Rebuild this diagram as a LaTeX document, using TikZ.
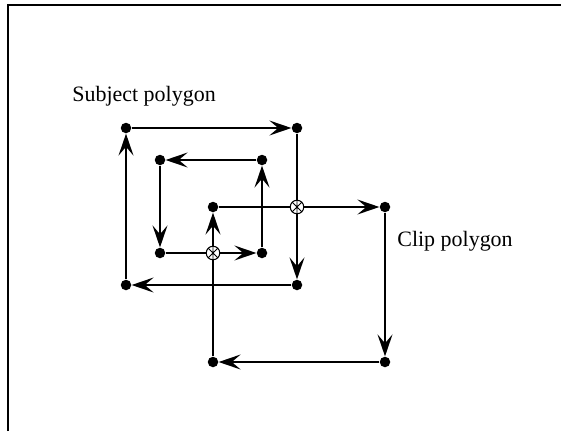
\documentclass[tikz,border=0pt]{standalone}
\usepackage{fontspec}
\setmainfont{Liberation Serif}
\usetikzlibrary{arrows.meta}

\begin{document}
\begin{tikzpicture}[
    dot/.style={circle,fill,inner sep=0pt,minimum size=0.21cm},
    link/.style={line width=1pt,-{Stealth[length=12.5pt,width=8.5pt,inset=5pt]}},
    hit/.style={circle,draw,fill=white,line width=0.6pt,inner sep=0pt,minimum size=0.27cm,
      path picture={\draw[line width=0.45pt] (path picture bounding box.north)--(path picture bounding box.south)
        (path picture bounding box.north west)--(path picture bounding box.south east)
        (path picture bounding box.north east)--(path picture bounding box.south west);}},
    label/.style={anchor=base west,inner sep=0pt,font=\fontsize{12.5}{15}\selectfont}]
    \useasboundingbox (0,0) rectangle (11.38,8.62);
    \draw[line width=1.4pt] (0.16,0)--(0.16,8.52)--(11.22,8.52);
    \node[dot] (p1) at (2.52,6.06) {}; \node[dot] (p2) at (5.94,6.06) {};
    \node[dot] (p3) at (5.94,2.92) {}; \node[dot] (p4) at (2.52,2.92) {};
    \node[dot] (q1) at (5.24,5.42) {}; \node[dot] (q2) at (3.20,5.42) {};
    \node[dot] (q3) at (3.20,3.56) {}; \node[dot] (q4) at (5.24,3.56) {};
    \node[dot] (c1) at (4.26,4.48) {}; \node[dot] (c2) at (7.70,4.48) {};
    \node[dot] (c3) at (7.70,1.38) {}; \node[dot] (c4) at (4.26,1.38) {};
    \draw[link] (p1)--(p2); \draw[link] (p2)--(p3);
    \draw[link] (p3)--(p4); \draw[link] (p4)--(p1);
    \draw[link] (q1)--(q2); \draw[link] (q2)--(q3);
    \draw[link] (q3)--(q4); \draw[link] (q4)--(q1);
    \draw[link] (c1)--(c2); \draw[link] (c2)--(c3);
    \draw[link] (c3)--(c4); \draw[link] (c4)--(c1);
    \node[hit] (i1) at (5.94,4.48) {};
    \node[hit] (i2) at (4.26,3.56) {};
    \node[label] (subj) at (1.44,6.60) {Subject polygon};
    \node[label] (clip) at (7.94,3.70) {Clip polygon};
  \end{tikzpicture}
\end{document}
